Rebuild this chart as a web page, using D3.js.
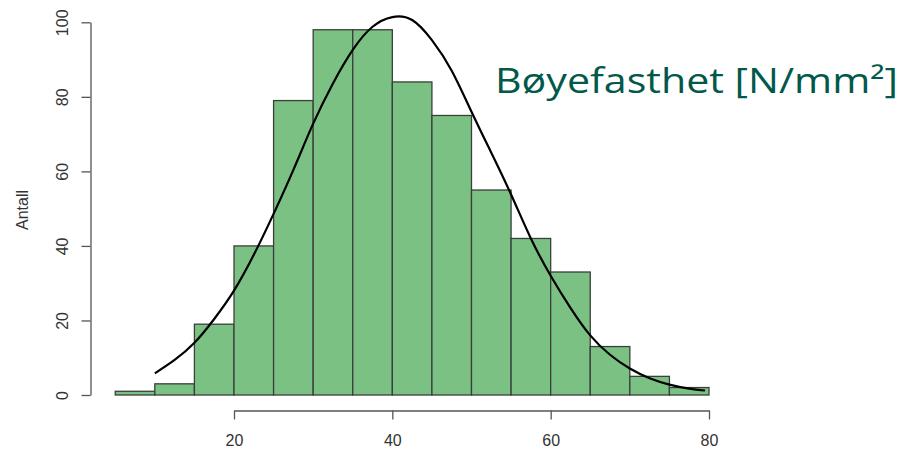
<!DOCTYPE html>
<html>
<head>
<meta charset="utf-8">
<script src="https://cdn.jsdelivr.net/npm/d3@7"></script>
<style>
  html, body { margin: 0; padding: 0; background: #ffffff; }
  svg { display: block; }
</style>
</head>
<body>
<svg id="chart" width="909" height="453"></svg>
<script>
// ---- data ----
const binStarts = [5, 10, 15, 20, 25, 30, 35, 40, 45, 50, 55, 60, 65, 70, 75];
const binWidth = 5;
const counts = [1, 3, 19, 40, 79, 98, 98, 84, 75, 55, 42, 33, 13, 5, 2];
const curveX = [10, 12.5, 15, 17.5, 20, 22.5, 25, 27.5, 30, 32.5, 35, 37.5, 40, 42.5, 45, 47.5, 50, 52.5, 55, 57.5, 60, 62.5, 65, 67.5, 70, 72.5, 75, 77.5, 79.5];
const curveY = [5.8, 9.4, 14, 20.4, 28, 37.6, 48.6, 60.4, 72.8, 83.6, 92.6, 98.8, 101.4, 100.6, 95.2, 87, 76, 65, 53.8, 42, 32, 23.4, 16, 10.8, 7.1, 4.5, 2.8, 1.7, 1.2];
const xTicks = [20, 40, 60, 80];
const yTicks = [0, 20, 40, 60, 80, 100];
const yLabel = "Antall";
const title = "Bøyefasthet [N/mm²]";

// ---- scales ----
const svg = d3.select("#chart");
const x = d3.scaleLinear().domain([20, 80]).range([234, 709]);
const y = d3.scaleLinear().domain([0, 100]).range([395, 22.3]);

const font = "'Liberation Sans', Arial, sans-serif";

// ---- bars ----
svg.append("g").selectAll("rect")
  .data(counts)
  .join("rect")
  .attr("x", (d, i) => x(binStarts[i]))
  .attr("y", d => y(d))
  .attr("width", (d, i) => x(binStarts[i] + binWidth) - x(binStarts[i]))
  .attr("height", d => y(0) - y(d))
  .attr("fill", "#7bc184")
  .attr("stroke", "#3a3f3a")
  .attr("stroke-width", 1.3);

// ---- density curve ----
const line = d3.line()
  .x((d, i) => x(curveX[i]))
  .y(d => y(d))
  .curve(d3.curveNatural);
svg.append("path")
  .datum(curveY)
  .attr("d", line)
  .attr("fill", "none")
  .attr("stroke", "#000")
  .attr("stroke-width", 2.2);

// ---- y axis ----
const yAxis = svg.append("g")
  .attr("transform", "translate(90.5,0)")
  .call(d3.axisLeft(y).tickValues(yTicks).tickSize(9).tickSizeOuter(0));
yAxis.select(".domain").attr("stroke", "#555").attr("stroke-width", 1.3);
yAxis.selectAll(".tick line").attr("stroke", "#555").attr("stroke-width", 1.3);
yAxis.selectAll(".tick text")
  .attr("transform", "rotate(-90)")
  .attr("x", 0)
  .attr("y", -22.5)
  .attr("dy", 0)
  .attr("text-anchor", "middle")
  .attr("font-family", font)
  .attr("font-size", 16)
  .attr("fill", "#333");

// ---- x axis ----
const xAxis = svg.append("g")
  .attr("transform", "translate(0,410.5)")
  .call(d3.axisBottom(x).tickValues(xTicks).tickSize(9).tickSizeOuter(0));
xAxis.select(".domain").attr("stroke", "#555").attr("stroke-width", 1.3);
xAxis.selectAll(".tick line").attr("stroke", "#555").attr("stroke-width", 1.3);
xAxis.selectAll(".tick text")
  .attr("y", 35.5)
  .attr("dy", 0)
  .attr("font-family", font)
  .attr("font-size", 16)
  .attr("fill", "#333");

// ---- y label ----
svg.append("text")
  .attr("transform", "translate(27.5,210) rotate(-90)")
  .attr("text-anchor", "middle")
  .attr("font-family", font)
  .attr("font-size", 16)
  .attr("fill", "#333")
  .text(yLabel);

// ---- title ----
svg.append("text")
  .attr("x", 495)
  .attr("y", 92.5)
  .attr("font-family", "'Open Sans', 'Noto Sans', sans-serif")
  .attr("font-size", 34)
  .attr("textLength", 403)
  .attr("lengthAdjust", "spacingAndGlyphs")
  .attr("fill", "#02594b")
  .text(title);
</script>
</body>
</html>
